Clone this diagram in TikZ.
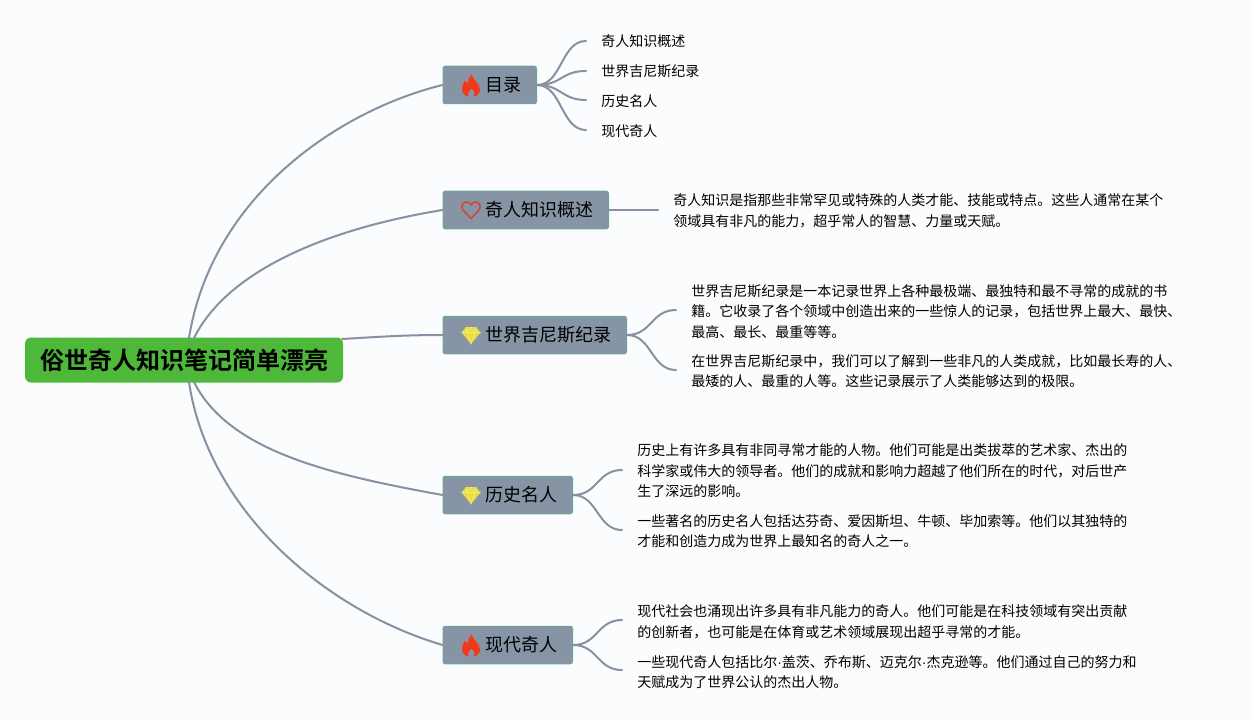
\documentclass[tikz,border=0pt]{standalone}
\usepackage{fontspec}
\setmainfont{Noto Sans CJK SC}[BoldFont={Noto Sans CJK SC Bold}]
\newfontfamily\latinfont{Liberation Sans}
\newdimen\px \px=0.75pt
\definecolor{bgc}{HTML}{FBFCFD}
\definecolor{linkc}{HTML}{8890A3}
\definecolor{nodec}{HTML}{8794A6}
\definecolor{edgec}{HTML}{76A09E}
\definecolor{rootc}{HTML}{4DB83A}
\definecolor{flamec}{HTML}{F03A17}
\definecolor{heartc}{HTML}{D2453C}
\definecolor{gemc}{HTML}{EADF3E}
\newcommand{\mdot}{{\latinfont ·}}
\newcommand{\blabel}[1]{\hspace*{42.5\px}\raisebox{-1.5\px}{#1}\hspace*{14.5\px}}
\tikzset{
  x=0.75pt,y=-0.75pt,
  rootbox/.style={fill=rootc,rounded corners=6\px,minimum height=45\px,inner xsep=0pt,inner ysep=0pt,font=\fontsize{18pt}{22pt}\selectfont\bfseries,text=black},
  branchbox/.style={fill=nodec,draw=edgec,line width=1.5\px,rounded corners=2\px,minimum height=37\px,inner xsep=0pt,inner ysep=0pt,anchor=west,font=\fontsize{13.5pt}{16pt}\selectfont,text=black},
  leaf/.style={anchor=west,inner sep=0pt,font=\fontsize{10.5pt}{15.4pt}\selectfont,text=black,align=left},
  link/.style={draw=linkc,line width=2\px,line cap=round},
  flame/.pic={\fill[flamec] (0.5,-11) .. controls (1.5,-6) and (9,-2) .. (9,4) .. controls (9,8) and (6,10.5) .. (2.5,11) .. controls (4.5,8) and (3,5) .. (0.5,3) .. controls (-2,5) and (-4,8) .. (-2.5,11) .. controls (-6,10.5) and (-9,8) .. (-9,3) .. controls (-9,0) and (-7,-3) .. (-6,-5) .. controls (-5,-3) and (-4,-2) .. (-3,-2) .. controls (-3,-6) and (-2,-9) .. (0.5,-11) -- cycle;},
  heart/.pic={\draw[heartc,line width=1.6\px,line join=round] (0,8.5) -- (-8,0) .. controls (-11,-4) and (-8,-8) .. (-4.5,-8) .. controls (-2.5,-8) and (-1,-7) .. (0,-5) .. controls (1,-7) and (2.5,-8) .. (4.5,-8) .. controls (8,-8) and (11,-4) .. (8,0) -- cycle;},
  gem/.pic={\fill[gemc] (-5,-8) -- (5,-8) -- (9.5,-2.5) -- (0,9) -- (-9.5,-2.5) -- cycle;
    \draw[white!35!gemc,line width=0.6\px] (-9.5,-2.5) -- (9.5,-2.5) (-5,-8) -- (-4,-2.5) -- (0,9) -- (4,-2.5) -- (5,-8) (-4,-2.5) -- (0,-8) -- (4,-2.5);},
}
\begin{document}
\begin{tikzpicture}
\useasboundingbox[fill=bgc] (0,0) rectangle (1251,720);

% connector free ends
\coordinate (t1) at (586,41);
\coordinate (t2) at (586,71);
\coordinate (t3) at (586,100);
\coordinate (t4) at (586,130);
\coordinate (o1) at (658,210);
\coordinate (g1) at (676,310);
\coordinate (g2) at (676,370);
\coordinate (h1) at (622,470);
\coordinate (h2) at (622,530);
\coordinate (m1) at (622,620);
\coordinate (m2) at (622,670);
\coordinate (r1) at (189,338);
\coordinate (r2) at (194,338);
\coordinate (r3) at (342,339);
\coordinate (r4) at (194,382);
\coordinate (r5) at (189,382);

% nodes
\node[rootbox,minimum width=318\px] (root) at (184,360) {\raisebox{-0.5\px}{俗世奇人知识笔记简单漂亮}};
\node[branchbox] (b1) at (442.5,85) {\blabel{目录}};
\node[branchbox] (b2) at (442.5,210) {\blabel{奇人知识概述}};
\node[branchbox] (b3) at (442.5,335) {\blabel{世界吉尼斯纪录}};
\node[branchbox] (b4) at (442.5,495) {\blabel{历史名人}};
\node[branchbox] (b5) at (442.5,645) {\blabel{现代奇人}};

% icons
\pic at (471,85.5) {flame};
\pic at (471,210) {heart};
\pic at (471,335) {gem};
\pic at (471,495) {gem};
\pic at (471,645.5) {flame};

% leaves
\node[leaf] (l1) at (601,41) {奇人知识概述};
\node[leaf] (l2) at (601,71) {世界吉尼斯纪录};
\node[leaf] (l3) at (601,101) {历史名人};
\node[leaf] (l4) at (601,131) {现代奇人};
\node[leaf] (p1) at (673,211) {奇人知识是指那些非常罕见或特殊的人类才能、技能或特点。这些人通常在某个\\领域具有非凡的能力，超乎常人的智慧、力量或天赋。};
\node[leaf] (p2) at (691,311.5) {世界吉尼斯纪录是一本记录世界上各种最极端、最独特和最不寻常的成就的书\\籍。它收录了各个领域中创造出来的一些惊人的记录，包括世界上最大、最快、\\最高、最长、最重等等。};
\node[leaf] (p3) at (691,371) {在世界吉尼斯纪录中，我们可以了解到一些非凡的人类成就，比如最长寿的人、\\最矮的人、最重的人等。这些记录展示了人类能够达到的极限。};
\node[leaf] (p4) at (637,471) {历史上有许多具有非同寻常才能的人物。他们可能是出类拔萃的艺术家、杰出的\\科学家或伟大的领导者。他们的成就和影响力超越了他们所在的时代，对后世产\\生了深远的影响。};
\node[leaf] (p5) at (637,531) {一些著名的历史名人包括达芬奇、爱因斯坦、牛顿、毕加索等。他们以其独特的\\才能和创造力成为世界上最知名的奇人之一。};
\node[leaf] (p6) at (637,622) {现代社会也涌现出许多具有非凡能力的奇人。他们可能是在科技领域有突出贡献\\的创新者，也可能是在体育或艺术领域展现出超乎寻常的才能。};
\node[leaf] (p7) at (637,672) {一些现代奇人包括比尔\mdot 盖茨、乔布斯、迈克尔\mdot 杰克逊等。他们通过自己的努力和\\天赋成为了世界公认的杰出人物。};

% root connectors
\draw[link] (r1) .. controls +(23,-143) and +(-102,25) .. (b1.west);
\draw[link] (r2) .. controls +(35,-70) and +(-110,18) .. (b2.west);
\draw[link] (r3) .. controls +(35,-2) and +(-40,0) .. (b3.west);
\draw[link] (r4) .. controls +(35,70) and +(-110,-20) .. (b4.west);
\draw[link] (r5) .. controls +(19,128) and +(-118,-35) .. (b5.west);

% branch connectors
\draw[link] (b1.east) .. controls +(25,0) and +(-25,0) .. (t1);
\draw[link] (b1.east) .. controls +(25,0) and +(-25,0) .. (t2);
\draw[link] (b1.east) .. controls +(25,0) and +(-25,0) .. (t3);
\draw[link] (b1.east) .. controls +(25,0) and +(-25,0) .. (t4);
\draw[link] (b2.east) -- (o1);
\draw[link] (b3.east) .. controls +(25,0) and +(-25,0) .. (g1);
\draw[link] (b3.east) .. controls +(25,0) and +(-25,0) .. (g2);
\draw[link] (b4.east) .. controls +(25,0) and +(-25,0) .. (h1);
\draw[link] (b4.east) .. controls +(25,0) and +(-25,0) .. (h2);
\draw[link] (b5.east) .. controls +(25,0) and +(-25,0) .. (m1);
\draw[link] (b5.east) .. controls +(25,0) and +(-25,0) .. (m2);
\end{tikzpicture}
\end{document}
